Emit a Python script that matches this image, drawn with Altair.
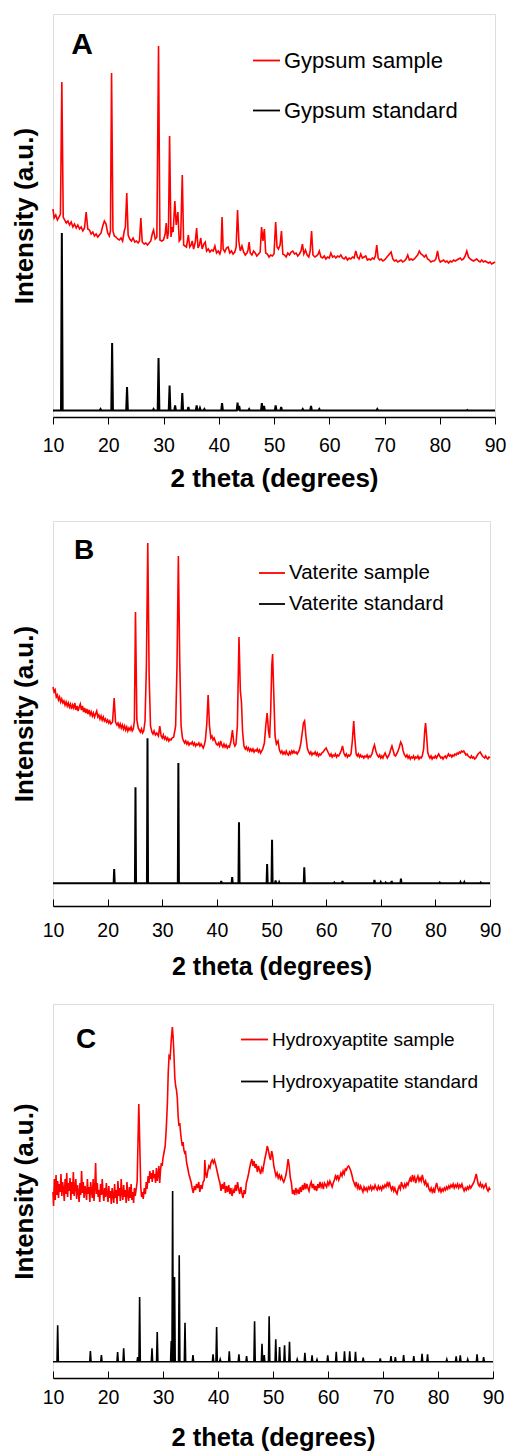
import altair as alt
import pandas as pd

FONT = "Liberation Sans"
RED = "#ff0000"
TICKS = [10, 20, 30, 40, 50, 60, 70, 80, 90]

# ---------------- Panel A : gypsum ----------------
A_NAMES = ["Gypsum sample", "Gypsum standard"]
A_SAMPLE = [
    (10.0, 208), (10.2, 199), (10.5, 202), (10.8, 197), (11.1, 200), (11.35, 203), (11.6, 335), (11.85, 200),
    (12.1, 197), (12.4, 194), (12.7, 196), (13.0, 192), (13.3, 195), (13.6, 190), (13.9, 193), (14.2, 189),
    (14.5, 192), (14.8, 188), (15.1, 190), (15.4, 186), (15.7, 189), (16.0, 205), (16.3, 188), (16.6, 187),
    (16.9, 183), (17.2, 185), (17.5, 181), (17.8, 183), (18.1, 180), (18.4, 182), (18.7, 184), (19.0, 191),
    (19.3, 196), (19.6, 193), (19.9, 184), (20.2, 181), (20.4, 186), (20.6, 344), (20.85, 186), (21.1, 181),
    (21.4, 180), (21.7, 178), (22.0, 177), (22.3, 179), (22.6, 176), (22.9, 186), (23.1, 190), (23.35, 224),
    (23.6, 182), (23.9, 178), (24.2, 176), (24.5, 179), (24.8, 175), (25.1, 176), (25.4, 174), (25.65, 176),
    (25.9, 199), (26.15, 175), (26.5, 173), (26.8, 174), (27.1, 172), (27.4, 174), (27.7, 176), (28.0, 184),
    (28.2, 187), (28.5, 178), (28.8, 180), (29.1, 371), (29.35, 177), (29.7, 176), (30.0, 177), (30.3, 183),
    (30.5, 194), (30.7, 178), (30.9, 185), (31.1, 281), (31.35, 180), (31.6, 190), (31.75, 185), (32.05, 216),
    (32.3, 192), (32.6, 205), (32.85, 176), (33.1, 178), (33.4, 242), (33.65, 172), (33.9, 171), (34.15, 170),
    (34.5, 182), (34.75, 170), (35.0, 172), (35.2, 176), (35.45, 168), (35.75, 175), (36.0, 189), (36.25, 169),
    (36.5, 172), (36.75, 179), (37.0, 168), (37.3, 173), (37.55, 175), (37.8, 166), (38.1, 168), (38.4, 165),
    (38.7, 167), (39.0, 166), (39.3, 171), (39.6, 164), (39.9, 166), (40.2, 163), (40.4, 167), (40.6, 200),
    (40.8, 168), (41.1, 165), (41.4, 169), (41.7, 170), (42.0, 164), (42.3, 166), (42.6, 163), (42.9, 165),
    (43.15, 170), (43.4, 207), (43.65, 175), (43.9, 166), (44.2, 171), (44.5, 165), (44.8, 162), (45.1, 164),
    (45.3, 167), (45.5, 175), (45.7, 164), (46.0, 162), (46.3, 166), (46.6, 164), (46.9, 161), (47.2, 163),
    (47.5, 165), (47.75, 190), (48.0, 176), (48.25, 188), (48.5, 164), (48.8, 163), (49.1, 160), (49.4, 162),
    (49.7, 161), (50.0, 163), (50.3, 195), (50.55, 170), (50.8, 168), (51.1, 172), (51.35, 186), (51.6, 163),
    (51.9, 162), (52.2, 160), (52.5, 164), (52.8, 162), (53.1, 165), (53.4, 166), (53.7, 163), (54.0, 164),
    (54.3, 161), (54.6, 163), (54.9, 166), (55.15, 173), (55.4, 163), (55.7, 167), (56.0, 162), (56.3, 160),
    (56.55, 166), (56.8, 186), (57.05, 162), (57.4, 160), (57.7, 161), (58.0, 163), (58.2, 166), (58.5, 160),
    (58.8, 159), (59.1, 161), (59.4, 158), (59.7, 160), (60.0, 159), (60.3, 164), (60.6, 160), (60.9, 161),
    (61.2, 159), (61.5, 161), (61.8, 160), (62.1, 162), (62.4, 159), (62.7, 158), (63.0, 160), (63.3, 157),
    (63.6, 159), (63.9, 158), (64.2, 160), (64.5, 159), (64.8, 166), (65.1, 160), (65.4, 158), (65.7, 163),
    (66.0, 159), (66.3, 160), (66.6, 161), (66.9, 157), (67.2, 158), (67.5, 157), (67.8, 159), (68.1, 158),
    (68.35, 161), (68.6, 172), (68.85, 159), (69.1, 157), (69.4, 158), (69.7, 156), (70.0, 157), (70.3, 159),
    (70.6, 161), (70.9, 163), (71.2, 165), (71.5, 158), (71.8, 156), (72.1, 157), (72.4, 155), (72.7, 156),
    (73.0, 157), (73.3, 155), (73.6, 156), (73.9, 158), (74.2, 162), (74.5, 157), (74.8, 158), (75.1, 157),
    (75.4, 158), (75.7, 160), (76.0, 162), (76.3, 166), (76.6, 163), (76.9, 162), (77.2, 160), (77.5, 162),
    (77.8, 158), (78.1, 157), (78.4, 155), (78.7, 156), (79.0, 156), (79.3, 158), (79.6, 166), (79.85, 158),
    (80.1, 155), (80.4, 156), (80.7, 157), (81.0, 155), (81.3, 156), (81.6, 154), (81.9, 156), (82.2, 155),
    (82.5, 157), (82.8, 156), (83.1, 157), (83.4, 158), (83.7, 159), (84.0, 157), (84.3, 158), (84.6, 161),
    (84.9, 166), (85.2, 160), (85.5, 158), (85.8, 157), (86.1, 156), (86.4, 157), (86.7, 158), (87.0, 156),
    (87.3, 155), (87.6, 157), (87.9, 155), (88.2, 156), (88.5, 155), (88.8, 154), (89.1, 155), (89.4, 153),
    (89.7, 154), (90.0, 155),
]
A_STD_BASE = 6.5
A_STD_PEAKS = [
    (11.6, 184), (18.6, 8), (20.7, 74), (23.4, 30), (28.2, 8), (29.1, 59), (31.1, 31.5), (32.1, 11.5),
    (33.4, 24), (34.5, 10), (36.0, 11.5), (36.6, 9), (37.4, 8), (40.6, 14), (43.4, 14.5), (43.7, 11),
    (45.5, 8), (47.8, 14), (48.2, 11), (50.3, 11.5), (51.3, 10), (55.2, 8), (56.7, 11), (58.2, 8),
    (68.7, 8), (85.0, 7),
]

# ---------------- Panel B : vaterite ----------------
B_NAMES = ["Vaterite sample", "Vaterite standard"]
B_SAMPLE = [
    (10.0, 219), (10.2, 214), (10.4, 216), (10.6, 209), (10.8, 211), (11.0, 206), (11.2, 209), (11.4, 204),
    (11.6, 207), (11.8, 203), (12.0, 205), (12.2, 201), (12.4, 204), (12.6, 200), (12.8, 203), (13.0, 199),
    (13.2, 202), (13.4, 197), (13.6, 201), (13.8, 198), (14.0, 203), (14.2, 196), (14.4, 200), (14.6, 195),
    (14.8, 199), (15.0, 202), (15.2, 196), (15.4, 200), (15.6, 194), (15.8, 198), (16.0, 193), (16.2, 197),
    (16.4, 192), (16.6, 196), (16.8, 191), (17.0, 194), (17.2, 190), (17.4, 193), (17.6, 189), (17.8, 192),
    (18.0, 195), (18.2, 189), (18.4, 191), (18.6, 187), (18.8, 190), (19.0, 186), (19.2, 189), (19.4, 185),
    (19.6, 187), (19.8, 184), (20.0, 186), (20.2, 183), (20.4, 185), (20.6, 182), (20.9, 184), (21.2, 208),
    (21.45, 184), (21.7, 181), (21.9, 183), (22.1, 179), (22.3, 182), (22.5, 178), (22.7, 181), (22.9, 177),
    (23.1, 180), (23.3, 176), (23.5, 179), (23.7, 175), (23.9, 178), (24.1, 176), (24.3, 179), (24.5, 175),
    (24.7, 177), (24.9, 185), (25.1, 294), (25.35, 186), (25.6, 178), (25.8, 176), (26.0, 174), (26.2, 177),
    (26.4, 173), (26.6, 175), (26.85, 185), (27.1, 240), (27.35, 363), (27.6, 230), (27.85, 180), (28.1, 174),
    (28.3, 172), (28.5, 175), (28.75, 171), (29.0, 173), (29.3, 170), (29.55, 180), (29.8, 170), (30.0, 168),
    (30.2, 171), (30.4, 167), (30.6, 169), (30.8, 166), (31.0, 168), (31.2, 165), (31.4, 167), (31.6, 166),
    (31.8, 168), (32.1, 169), (32.45, 180), (32.7, 240), (32.95, 350), (33.2, 245), (33.45, 180), (33.7, 168),
    (33.9, 165), (34.1, 163), (34.3, 165), (34.5, 162), (34.7, 164), (34.9, 161), (35.1, 163), (35.3, 162),
    (35.5, 164), (35.7, 161), (35.9, 163), (36.1, 160), (36.3, 162), (36.5, 161), (36.7, 163), (36.9, 160),
    (37.1, 162), (37.3, 160), (37.5, 158), (37.7, 161), (37.9, 166), (38.15, 182), (38.4, 211), (38.65, 180),
    (38.9, 168), (39.1, 170), (39.3, 166), (39.5, 168), (39.7, 165), (39.9, 162), (40.1, 161), (40.3, 163),
    (40.5, 160), (40.7, 165), (40.9, 161), (41.1, 159), (41.3, 162), (41.5, 159), (41.7, 161), (41.9, 158),
    (42.1, 160), (42.3, 159), (42.55, 164), (42.85, 176), (43.1, 163), (43.3, 160), (43.5, 162), (43.75, 180),
    (44.05, 269), (44.3, 215), (44.5, 204), (44.7, 175), (44.95, 160), (45.2, 157), (45.4, 159), (45.6, 156),
    (45.8, 158), (46.0, 155), (46.2, 157), (46.4, 155), (46.6, 157), (46.8, 154), (47.0, 156), (47.2, 155),
    (47.4, 157), (47.6, 154), (47.8, 156), (48.0, 153), (48.2, 155), (48.4, 157), (48.7, 163), (48.95, 180),
    (49.2, 193), (49.45, 175), (49.65, 168), (49.85, 195), (50.05, 240), (50.2, 252), (50.4, 215), (50.65, 170),
    (50.9, 162), (51.2, 165), (51.45, 156), (51.7, 153), (51.9, 155), (52.1, 152), (52.3, 154), (52.5, 152),
    (52.7, 155), (52.9, 152), (53.1, 151), (53.3, 154), (53.5, 152), (53.7, 155), (53.9, 153), (54.1, 155),
    (54.3, 153), (54.5, 154), (54.7, 152), (54.9, 154), (55.1, 156), (55.35, 162), (55.6, 172), (55.85, 183),
    (56.05, 185), (56.3, 170), (56.55, 158), (56.8, 154), (57.0, 152), (57.2, 154), (57.4, 151), (57.6, 153),
    (57.8, 152), (58.0, 154), (58.2, 151), (58.4, 153), (58.6, 150), (58.8, 152), (59.0, 151), (59.2, 153),
    (59.45, 154), (59.7, 156), (60.0, 158), (60.25, 155), (60.5, 152), (60.7, 150), (60.9, 152), (61.1, 149),
    (61.3, 151), (61.5, 150), (61.7, 152), (61.9, 149), (62.1, 151), (62.3, 150), (62.5, 152), (62.8, 156),
    (63.0, 160), (63.25, 153), (63.5, 150), (63.7, 152), (63.9, 149), (64.1, 151), (64.3, 150), (64.55, 152),
    (64.8, 165), (65.05, 185), (65.25, 168), (65.5, 152), (65.7, 150), (65.9, 152), (66.1, 149), (66.3, 151),
    (66.5, 149), (66.7, 150), (66.9, 148), (67.1, 150), (67.3, 149), (67.5, 151), (67.7, 148), (67.9, 150),
    (68.1, 149), (68.4, 152), (68.6, 157), (68.85, 161), (69.1, 155), (69.35, 151), (69.6, 149), (69.8, 151),
    (70.0, 148), (70.2, 150), (70.4, 148), (70.6, 151), (70.8, 153), (71.0, 150), (71.2, 148), (71.4, 150),
    (71.6, 152), (71.8, 156), (72.05, 160), (72.3, 155), (72.5, 151), (72.7, 150), (72.9, 152), (73.1, 154),
    (73.35, 158), (73.65, 164), (73.9, 161), (74.1, 155), (74.35, 151), (74.6, 149), (74.8, 151), (75.0, 148),
    (75.2, 150), (75.4, 147), (75.6, 149), (75.8, 148), (76.0, 150), (76.2, 147), (76.4, 149), (76.6, 148),
    (76.8, 150), (77.0, 147), (77.2, 149), (77.4, 148), (77.6, 150), (77.85, 157), (78.05, 175), (78.2, 183),
    (78.4, 170), (78.6, 154), (78.8, 150), (79.0, 148), (79.2, 150), (79.4, 147), (79.6, 149), (79.8, 148),
    (80.0, 150), (80.2, 148), (80.4, 150), (80.6, 152), (80.8, 150), (81.0, 148), (81.2, 149), (81.4, 147),
    (81.6, 149), (81.8, 150), (82.0, 148), (82.2, 150), (82.4, 152), (82.6, 150), (82.8, 151), (83.0, 149),
    (83.2, 151), (83.4, 150), (83.6, 152), (83.8, 151), (84.0, 153), (84.2, 152), (84.4, 154), (84.6, 153),
    (84.8, 155), (85.0, 154), (85.2, 155), (85.4, 153), (85.6, 151), (85.8, 152), (86.0, 150), (86.2, 149),
    (86.4, 148), (86.6, 150), (86.8, 148), (87.0, 149), (87.2, 147), (87.4, 148), (87.6, 150), (87.8, 152),
    (88.0, 153), (88.2, 154), (88.4, 152), (88.6, 150), (88.8, 149), (89.0, 148), (89.2, 150), (89.4, 148),
    (89.6, 147), (89.8, 149), (90.0, 148),
]
B_STD_BASE = 22.7
B_STD_PEAKS = [
    (21.2, 37), (25.1, 118.7), (27.3, 167.7), (32.95, 143), (40.8, 25), (42.8, 29), (44.05, 83.7),
    (49.2, 42), (50.1, 66.3), (50.75, 25.5), (51.4, 24), (56.0, 38.7), (61.5, 23.5), (63.0, 25),
    (68.85, 26), (70.0, 24), (70.9, 23.5), (72.0, 25), (73.7, 27.3), (80.8, 23.5), (84.6, 24),
    (85.3, 24), (88.3, 23.5),
]

# ---------------- Panel C : hydroxyapatite ----------------
C_NAMES = ["Hydroxyaptite sample", "Hydroxyapatite standard"]
C_SAMPLE = [
    (10.0, 186), (10.1, 172), (10.25, 199), (10.4, 178), (10.55, 203), (10.7, 183), (10.85, 197), (11.0, 180),
    (11.15, 194), (11.3, 186), (11.45, 204), (11.6, 182), (11.75, 196), (11.9, 189), (12.05, 177), (12.2, 199),
    (12.35, 184), (12.5, 205), (12.65, 181), (12.8, 195), (12.95, 187), (13.1, 200), (13.25, 178), (13.4, 196),
    (13.55, 184), (13.7, 206), (13.85, 182), (14.0, 191), (14.15, 199), (14.3, 179), (14.45, 193), (14.6, 186),
    (14.75, 176), (14.9, 195), (15.05, 183), (15.2, 207), (15.35, 185), (15.5, 196), (15.65, 180), (15.8, 192),
    (15.95, 188), (16.1, 178), (16.25, 199), (16.4, 184), (16.55, 191), (16.7, 176), (16.85, 196), (17.0, 186),
    (17.15, 180), (17.3, 199), (17.45, 177), (17.6, 190), (17.75, 215), (17.9, 184), (18.05, 195), (18.2, 181),
    (18.35, 188), (18.5, 176), (18.65, 194), (18.8, 183), (18.95, 199), (19.1, 185), (19.25, 177), (19.4, 190),
    (19.55, 181), (19.7, 195), (19.85, 184), (20.0, 176), (20.15, 192), (20.3, 180), (20.45, 187), (20.6, 174),
    (20.75, 190), (20.9, 183), (21.05, 175), (21.2, 194), (21.35, 180), (21.5, 188), (21.65, 174), (21.8, 197),
    (21.95, 182), (22.1, 190), (22.25, 177), (22.4, 199), (22.55, 184), (22.7, 178), (22.85, 193), (23.0, 181),
    (23.15, 188), (23.3, 175), (23.45, 196), (23.6, 183), (23.75, 177), (23.9, 191), (24.05, 180), (24.2, 194),
    (24.35, 178), (24.5, 186), (24.65, 175), (24.8, 190), (24.95, 182), (25.1, 188), (25.3, 196), (25.45, 235),
    (25.6, 274), (25.75, 240), (25.95, 192), (26.1, 181), (26.25, 186), (26.4, 179), (26.6, 190), (26.8, 184),
    (26.95, 196), (27.1, 189), (27.3, 202), (27.45, 195), (27.6, 207), (27.75, 199), (27.9, 205), (28.05, 196),
    (28.2, 208), (28.35, 200), (28.5, 204), (28.65, 195), (28.8, 210), (28.95, 197), (29.1, 203), (29.25, 212),
    (29.4, 195), (29.55, 208), (29.7, 215), (29.85, 212), (30.0, 220), (30.2, 226), (30.4, 232), (30.6, 250),
    (30.8, 275), (30.95, 305), (31.1, 322), (31.3, 320), (31.5, 338), (31.7, 351), (31.85, 340), (32.0, 322),
    (32.15, 300), (32.3, 292), (32.45, 288), (32.6, 280), (32.75, 262), (32.9, 252), (33.05, 255), (33.2, 245),
    (33.35, 238), (33.5, 232), (33.65, 236), (33.8, 228), (33.95, 225), (34.1, 226), (34.3, 215), (34.5, 210),
    (34.7, 204), (34.9, 200), (35.1, 196), (35.3, 190), (35.5, 185), (35.7, 192), (35.9, 188), (36.1, 194),
    (36.3, 190), (36.5, 196), (36.7, 186), (36.9, 193), (37.1, 189), (37.3, 196), (37.5, 198), (37.6, 218),
    (37.75, 205), (37.95, 200), (38.15, 207), (38.35, 212), (38.55, 210), (38.75, 216), (38.95, 218), (39.15, 215),
    (39.35, 218), (39.55, 214), (39.75, 209), (39.95, 204), (40.15, 199), (40.35, 195), (40.55, 187), (40.75, 194),
    (40.95, 189), (41.15, 196), (41.35, 185), (41.55, 192), (41.75, 186), (41.95, 193), (42.15, 184), (42.35, 190),
    (42.55, 182), (42.75, 188), (42.95, 185), (43.15, 193), (43.35, 187), (43.55, 196), (43.75, 189), (43.95, 184),
    (44.15, 191), (44.35, 185), (44.55, 180), (44.75, 188), (44.95, 184), (45.15, 195), (45.35, 199), (45.55, 204),
    (45.75, 210), (45.95, 215), (46.15, 219), (46.35, 212), (46.55, 217), (46.75, 210), (46.95, 214), (47.15, 206),
    (47.35, 212), (47.55, 208), (47.75, 204), (47.95, 210), (48.15, 207), (48.35, 214), (48.55, 220), (48.75, 225),
    (48.95, 232), (49.15, 228), (49.35, 222), (49.55, 218), (49.75, 227), (49.95, 222), (50.15, 212), (50.35, 207),
    (50.55, 202), (50.75, 205), (50.95, 200), (51.15, 203), (51.35, 199), (51.55, 202), (51.75, 198), (51.95, 196),
    (52.15, 199), (52.35, 203), (52.55, 210), (52.75, 219), (52.95, 212), (53.15, 200), (53.35, 195), (53.55, 184),
    (53.75, 188), (53.95, 183), (54.15, 190), (54.35, 185), (54.55, 188), (54.75, 184), (54.95, 191), (55.15, 186),
    (55.35, 193), (55.55, 188), (55.75, 195), (55.95, 189), (56.15, 194), (56.35, 190), (56.55, 187), (56.75, 193),
    (56.95, 196), (57.15, 190), (57.35, 194), (57.55, 188), (57.75, 192), (57.95, 187), (58.15, 194), (58.35, 190),
    (58.55, 196), (58.75, 191), (58.95, 194), (59.15, 189), (59.35, 195), (59.55, 193), (59.75, 191), (59.95, 196),
    (60.15, 193), (60.35, 197), (60.55, 194), (60.75, 191), (60.95, 195), (61.15, 198), (61.35, 202), (61.55, 199),
    (61.75, 203), (61.95, 198), (62.15, 201), (62.35, 205), (62.55, 202), (62.75, 207), (62.95, 204), (63.15, 209),
    (63.35, 208), (63.55, 211), (63.75, 212), (63.95, 210), (64.15, 207), (64.35, 203), (64.55, 198), (64.75, 195),
    (64.95, 192), (65.15, 196), (65.35, 190), (65.55, 193), (65.75, 188), (65.95, 192), (66.15, 189), (66.35, 186),
    (66.55, 191), (66.75, 188), (66.95, 190), (67.15, 187), (67.35, 191), (67.55, 189), (67.75, 192), (67.95, 188),
    (68.15, 191), (68.35, 189), (68.55, 193), (68.75, 190), (68.95, 188), (69.15, 192), (69.35, 189), (69.55, 191),
    (69.75, 188), (69.95, 192), (70.15, 190), (70.35, 193), (70.55, 191), (70.75, 195), (70.95, 192), (71.15, 196),
    (71.35, 191), (71.55, 188), (71.75, 192), (71.95, 187), (72.15, 190), (72.35, 186), (72.55, 184), (72.75, 189),
    (72.95, 192), (73.15, 189), (73.35, 196), (73.55, 192), (73.75, 190), (73.95, 194), (74.15, 191), (74.35, 195),
    (74.55, 193), (74.75, 197), (74.95, 200), (75.15, 196), (75.35, 203), (75.55, 198), (75.75, 201), (75.95, 195),
    (76.15, 199), (76.35, 202), (76.55, 197), (76.75, 200), (76.95, 197), (77.15, 203), (77.35, 198), (77.55, 194),
    (77.75, 197), (77.95, 192), (78.15, 194), (78.35, 189), (78.55, 187), (78.75, 190), (78.95, 186), (79.15, 189),
    (79.35, 185), (79.55, 191), (79.75, 195), (79.95, 190), (80.15, 187), (80.35, 190), (80.55, 186), (80.75, 189),
    (80.95, 187), (81.15, 190), (81.35, 188), (81.55, 191), (81.75, 189), (81.95, 192), (82.15, 190), (82.35, 193),
    (82.55, 191), (82.75, 194), (82.95, 190), (83.15, 193), (83.35, 191), (83.55, 194), (83.75, 190), (83.95, 193),
    (84.15, 191), (84.35, 194), (84.55, 190), (84.75, 187), (84.95, 190), (85.15, 188), (85.35, 191), (85.55, 189),
    (85.75, 192), (85.95, 190), (86.15, 192), (86.35, 194), (86.55, 196), (86.75, 200), (86.95, 204), (87.1, 200),
    (87.3, 194), (87.5, 192), (87.7, 195), (87.9, 191), (88.1, 193), (88.3, 190), (88.5, 192), (88.7, 194),
    (88.9, 189), (89.1, 187), (89.3, 190), (89.5, 188),
]
C_STD_BASE = 16.3
C_STD_PEAKS = [
    (10.85, 52.7), (16.8, 27), (18.8, 23), (21.75, 26), (22.85, 29.7), (25.4, 21), (25.75, 81),
    (28.0, 29.7), (28.95, 46), (31.5, 37), (31.75, 187), (32.1, 101), (32.95, 122.7), (34.0, 55.3),
    (35.45, 23), (39.1, 23.7), (39.75, 51), (40.4, 18.7), (42.05, 26.7), (43.8, 23.7), (45.2, 22),
    (46.65, 56.7), (48.0, 34.3), (48.4, 23), (49.3, 61.7), (50.5, 38.7), (51.2, 31), (52.1, 32.7),
    (53.0, 36.3), (54.4, 18.7), (55.8, 25.3), (57.1, 22.7), (58.0, 18.5), (59.95, 22.7), (61.5, 26.3),
    (63.0, 26.7), (63.95, 26.7), (65.0, 26.3), (66.4, 20.3), (69.5, 19.5), (71.45, 22), (72.25, 21),
    (73.75, 23), (75.6, 22), (77.1, 24.3), (78.1, 23.7), (81.6, 18.7), (83.3, 21.7), (84.05, 22.7),
    (85.4, 18.7), (87.1, 23.7), (88.3, 21),
]

X_TITLE = "2 theta (degrees)"


def sample_frame(points, name):
    return pd.DataFrame({"x": [p[0] for p in points], "y": [p[1] for p in points], "s": name})


def standard_frame(peaks, base, half, name):
    xs, ys = [10.0], [base]
    for px, h in sorted(peaks):
        xs += [px - half, px, px + half]
        ys += [base, h, base]
    xs.append(90.0)
    ys.append(base)
    return pd.DataFrame({"x": xs, "y": ys, "s": name})


def panel(letter, names, sample, std, width, height, ymax, legend, letter_pos,
          inward_ticks, label_pad, title_pad, std_width, title_size, letter_size, extra_gap=0):
    xscale = alt.Scale(domain=[10, 90], nice=False, zero=False)
    yscale = alt.Scale(domain=[0, ymax], nice=False, zero=True)
    data = pd.concat([sample, std], ignore_index=True)
    axis_kw = dict(
        values=TICKS, format="d", grid=False, labelFont=FONT, labelFontSize=19.5, labelColor="black",
        labelPadding=label_pad, titleFont=FONT, titleFontSize=title_size,
        titleFontWeight="bold", titleColor="black", titlePadding=title_pad, domainColor="black",
        domainWidth=1.5, tickColor="black", tickWidth=1, labelFlush=False,
        tickSize=0 if inward_ticks else 7, ticks=not inward_ticks,
    )
    if extra_gap:
        axis_kw["title"] = [X_TITLE, " "]
        axis_kw["titleLineHeight"] = extra_gap
    else:
        axis_kw["title"] = X_TITLE
    x_axis = alt.Axis(**axis_kw)
    y_axis = alt.Axis(
        labels=False, ticks=False, domain=False, grid=False, title="Intensity (a.u.)", titleFont=FONT,
        titleFontSize=26, titleFontWeight="bold", titleColor="black", titlePadding=16,
    )
    color = alt.Color(
        "s:N",
        scale=alt.Scale(domain=names, range=[RED, "black"]),
        sort=names,
        legend=alt.Legend(
            orient="none", legendX=legend[0], legendY=legend[1], title=None, symbolType="stroke",
            symbolSize=legend[4] ** 2, symbolStrokeWidth=1.8, labelFont=FONT, labelFontSize=legend[2],
            labelColor="black", labelOffset=3, rowPadding=legend[3], labelLimit=0, padding=0,
        ),
    )
    sw = alt.condition(alt.datum.s == names[0], alt.value(1.6), alt.value(std_width))
    lines = alt.Chart(data).mark_line(interpolate="linear").encode(
        x=alt.X("x:Q", scale=xscale, axis=x_axis),
        y=alt.Y("y:Q", scale=yscale, axis=y_axis),
        color=color,
        strokeWidth=sw,
        detail="s:N",
        order="x:Q",
    )
    lab = pd.DataFrame({"x": [letter_pos[0]], "y": [letter_pos[1]], "t": [letter]})
    text = alt.Chart(lab).mark_text(
        font=FONT, fontSize=letter_size, fontWeight="bold", align="left", baseline="alphabetic", color="black"
    ).encode(
        x=alt.X("x:Q", scale=xscale),
        y=alt.Y("y:Q", scale=yscale),
        text="t:N",
    )
    main = alt.layer(lines, text)
    if inward_ticks:
        tick_axis = alt.Axis(
            orient="top", offset=-height, values=TICKS, labels=False, domain=False, grid=False,
            title=None, tickSize=7, tickColor="black", tickWidth=1,
        )
        tick_layer = alt.Chart(std).mark_line(opacity=0).encode(
            x=alt.X("x:Q", scale=xscale, axis=tick_axis),
        )
        ch = alt.layer(main, tick_layer).resolve_axis(x="independent")
    else:
        ch = main
    return ch.properties(width=width, height=height)


a = panel(
    "A", A_NAMES, sample_frame(A_SAMPLE, A_NAMES[0]),
    standard_frame(A_STD_PEAKS, A_STD_BASE, 0.15, A_NAMES[1]),
    442, 403, 403, (199, 32, 22, 24, 27), (13.3, 363.5), False, 12, 11, 2.0, 26, 30, extra_gap=5,
)
b = panel(
    "B", B_NAMES, sample_frame(B_SAMPLE, B_NAMES[0]),
    standard_frame(B_STD_PEAKS, B_STD_BASE, 0.1, B_NAMES[1]),
    437, 385, 385, (205, 38, 20.5, 6, 26), (13.85, 347), True, 15, 15, 2.0, 25, 28,
)
c = panel(
    "C", C_NAMES, sample_frame(C_SAMPLE, C_NAMES[0]),
    standard_frame(C_STD_PEAKS, C_STD_BASE, 0.12, C_NAMES[1]),
    440, 374, 374, (187, 21, 19, 17, 27), (14.2, 330.3), True, 10, 19, 1.6, 25.5, 28,
)

chart = alt.vconcat(a, b, c, spacing=23).resolve_scale(
    x="independent", y="independent", color="independent"
).resolve_legend(color="independent").properties(
    padding={"left": 10, "top": 13, "right": 0, "bottom": 0}
).configure_view(stroke="#222222", strokeWidth=1).configure(background="white")

chart.save("out.html", embed_options={"renderer": "svg", "actions": False})
